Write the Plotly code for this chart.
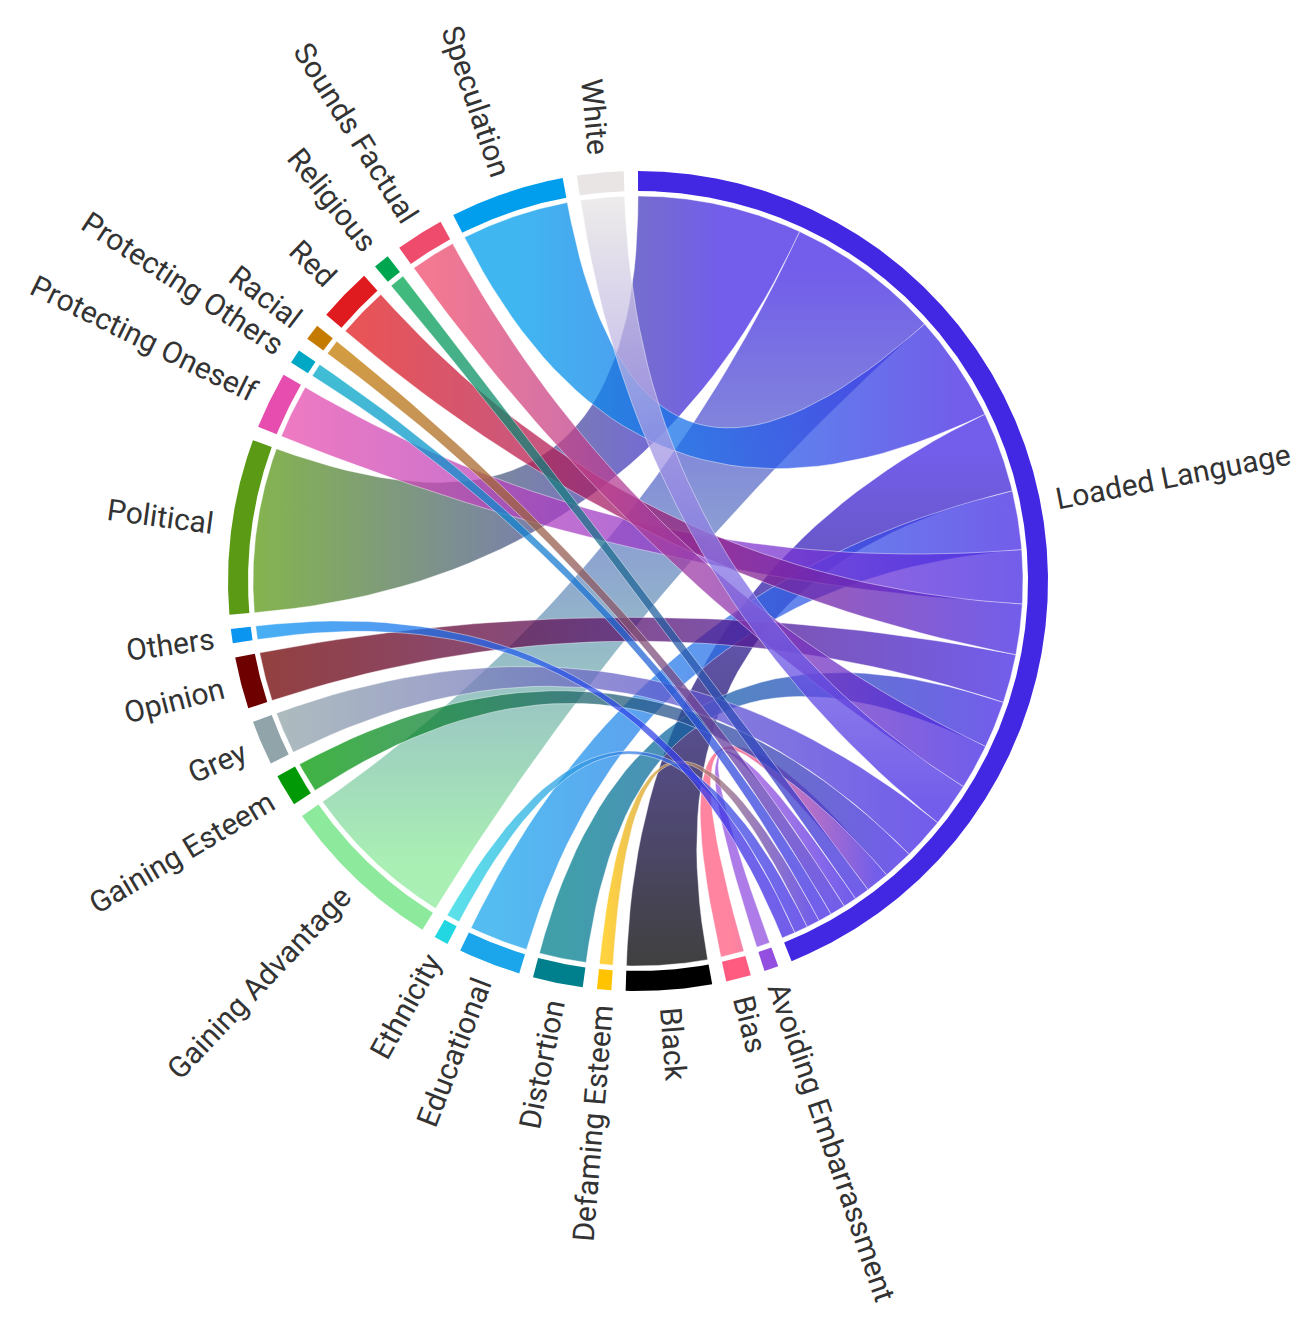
"""Chord diagram: every technique linked to Loaded Language."""

import numpy as np
import plotly.graph_objects as go

HUB = "Loaded Language"
HUB_COLOR = "#4328E3"

nodes = [
    "Avoiding Embarrassment", "Bias", "Black", "Defaming Esteem", "Distortion",
    "Educational", "Ethnicity", "Gaining Advantage", "Gaining Esteem", "Grey",
    "Opinion", "Others", "Political", "Protecting Oneself", "Protecting Others",
    "Racial", "Red", "Religious", "Sounds Factual", "Speculation", "White",
]
values = [8, 14, 48, 8, 28, 35, 8, 92, 18, 25, 29, 8, 98, 32, 8, 9, 30, 9, 27, 64, 26]
colors = [
    "#9350E0", "#FF5B80", "#000000", "#FFC300", "#007F8C",
    "#1BA6EC", "#23D7E2", "#8DE99B", "#019A06", "#91A4A9",
    "#6E0000", "#0A95F0", "#5B9A14", "#E64DAE", "#00A8C6",
    "#C47B00", "#E01B1F", "#00A54F", "#EF4B6C", "#009EEC", "#E8E5E4",
]
# order of the ribbons along the hub arc, clockwise from the top
hub_order = [
    "Political", "Gaining Advantage", "Speculation", "Black", "Educational",
    "Protecting Oneself", "Red", "Opinion", "Distortion", "Sounds Factual",
    "White", "Grey", "Gaining Esteem", "Bias", "Religious",
    "Avoiding Embarrassment", "Racial", "Protecting Others", "Defaming Esteem",
    "Ethnicity", "Others",
]

W, H = 1315, 1330
CX, CY = 638, 581
R_OUT, R_IN, R_CHORD, R_LABEL = 410, 390, 385, 429
GAP = 2.0
ALPHA = 0.75
FONT_SIZE = 30

# Roboto advance widths (em) to centre the rotated labels
CHAR_W = {
    " ": 0.248, "A": 0.652, "B": 0.623, "D": 0.640, "E": 0.546, "F": 0.531,
    "G": 0.666, "L": 0.526, "O": 0.674, "P": 0.632, "R": 0.616, "S": 0.594,
    "W": 0.886, "a": 0.531, "b": 0.548, "c": 0.511, "d": 0.549, "e": 0.517,
    "f": 0.339, "g": 0.548, "h": 0.538, "i": 0.237, "k": 0.495, "l": 0.237,
    "m": 0.855, "n": 0.539, "o": 0.557, "p": 0.548, "r": 0.331, "s": 0.503,
    "t": 0.319, "u": 0.538, "v": 0.473, "y": 0.462,
}


def pt(bearing, r):
    b = np.radians(bearing)
    return CX + r * np.sin(b), CY - r * np.cos(b)


def arc(a0, a1, r):
    n = max(2, int(abs(a1 - a0) * 4) + 2)
    t = np.linspace(a0, a1, n)
    x, y = pt(t, r)
    return list(x), list(y)


def quad(p0, p2):
    t = np.linspace(0, 1, 40)
    x = (1 - t) ** 2 * p0[0] + 2 * (1 - t) * t * CX + t ** 2 * p2[0]
    y = (1 - t) ** 2 * p0[1] + 2 * (1 - t) * t * CY + t ** 2 * p2[1]
    return list(x), list(y)


def rgba(hex_color, a):
    h = hex_color.lstrip("#")
    r, g, b = int(h[0:2], 16), int(h[2:4], 16), int(h[4:6], 16)
    return f"rgba({r},{g},{b},{a})"


def text_width(s):
    return sum(CHAR_W.get(c, 0.55) for c in s) * FONT_SIZE


total = 2 * sum(values)
deg_per_unit = (360 - GAP * (len(nodes) + 1)) / total

# arcs of the nodes
hub_span = sum(values) * deg_per_unit
node_arcs = {}
start = hub_span + GAP
for name, v in zip(nodes, values):
    node_arcs[name] = (start, start + v * deg_per_unit)
    start += v * deg_per_unit + GAP

# sub-arcs of the hub
val_of = dict(zip(nodes, values))
hub_arcs = {}
start = 0.0
for name in hub_order:
    hub_arcs[name] = (start, start + val_of[name] * deg_per_unit)
    start += val_of[name] * deg_per_unit

fig = go.Figure()

# ribbons
for name, col in zip(nodes, colors):
    a0, a1 = node_arcs[name]
    b0, b1 = hub_arcs[name]
    xs, ys = arc(a0, a1, R_CHORD)
    qx, qy = quad(pt(a1, R_CHORD), pt(b0, R_CHORD))
    xs += qx; ys += qy
    bx, by = arc(b0, b1, R_CHORD)
    xs += bx; ys += by
    qx, qy = quad(pt(b1, R_CHORD), pt(a0, R_CHORD))
    xs += qx; ys += qy

    pa = pt((a0 + a1) / 2, R_CHORD)
    pb = pt((b0 + b1) / 2, R_CHORD)
    if abs(pa[0] - pb[0]) >= abs(pa[1] - pb[1]):
        gtype, ga, gb = "horizontal", pa[0], pb[0]
    else:
        gtype, ga, gb = "vertical", pa[1], pb[1]
    ca, cb = rgba(col, ALPHA), rgba(HUB_COLOR, ALPHA)
    if ga <= gb:
        cscale, gstart, gstop = [[0, ca], [1, cb]], ga, gb
    else:
        cscale, gstart, gstop = [[0, cb], [1, ca]], gb, ga

    fig.add_trace(go.Scatter(
        x=xs, y=ys, mode="lines", fill="toself",
        fillgradient=dict(type=gtype, colorscale=cscale, start=gstart, stop=gstop),
        line=dict(color="rgba(255,255,255,0.55)", width=0.8),
        hoverinfo="skip", showlegend=False,
    ))

# node rings and labels
ring_items = [(HUB, (0.0, hub_span), HUB_COLOR)] + [
    (n, node_arcs[n], c) for n, c in zip(nodes, colors)
]
for name, (a0, a1), col in ring_items:
    ox, oy = arc(a0, a1, R_OUT)
    ix, iy = arc(a1, a0, R_IN)
    fig.add_trace(go.Scatter(
        x=ox + ix, y=oy + iy, mode="lines", fill="toself",
        fillcolor=col, line=dict(width=0, color=col),
        hoverinfo="skip", showlegend=False,
    ))

    mid = (a0 + a1) / 2
    rot = mid - 90 if mid < 180 else mid - 270
    lx, ly = pt(mid, R_LABEL + text_width(name) / 2)
    fig.add_annotation(
        x=lx, y=ly, text=name, showarrow=False, textangle=rot,
        xanchor="center", yanchor="middle",
        font=dict(family="Roboto", size=FONT_SIZE, color="#333333"),
    )

fig.update_layout(
    width=W, height=H,
    margin=dict(l=0, r=0, t=0, b=0),
    xaxis=dict(range=[0, W], visible=False, fixedrange=True),
    yaxis=dict(range=[H, 0], visible=False, fixedrange=True),
    plot_bgcolor="white", paper_bgcolor="white",
    showlegend=False,
)

fig.write_html(
    "out.html",
    config={"displayModeBar": False},
    post_script="document.body.style.margin='0';",
)
